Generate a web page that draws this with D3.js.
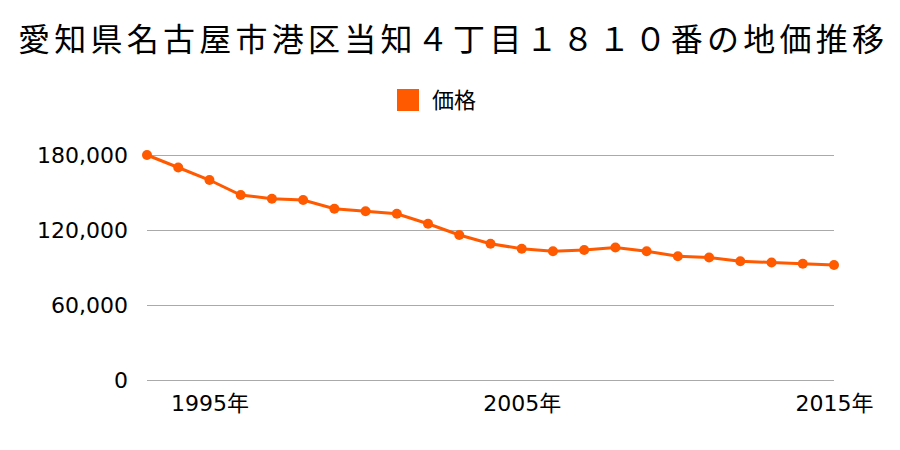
<!DOCTYPE html>
<html><head><meta charset="utf-8">
<script src="https://cdn.jsdelivr.net/npm/d3@7"></script>
<style>body{margin:0;background:#fff}svg{display:block}</style>
</head><body><svg id="c" width="900" height="450"></svg>
<script>
const title = "愛知県名古屋市港区当知４丁目１８１０番の地価推移";
const seriesName = "価格";
const years = [1993,1994,1995,1996,1997,1998,1999,2000,2001,2002,2003,2004,2005,2006,2007,2008,2009,2010,2011,2012,2013,2014,2015];
const prices = [180000,170000,160000,148000,145000,144000,137000,135000,133000,125000,116000,109000,105000,103000,104000,106000,103000,99000,98000,95000,94000,93000,92000];
const yTicks = [0,60000,120000,180000];
const xTickYears = [1995,2005,2015];

const color = "#ff5a00";
const cjk = "'Noto Sans CJK JP','Noto Sans',sans-serif";
const num = "'DejaVu Sans','Noto Sans CJK JP',sans-serif";
const svg = d3.select("#c");
const x = d3.scaleLinear().domain([1993,2015]).range([147,834]);
const y = d3.scaleLinear().domain([0,180000]).range([380,155]);

svg.append("text").attr("x",18).attr("y",51)
  .attr("textLength",866).attr("lengthAdjust","spacing")
  .attr("font-family",cjk).attr("font-size",32).attr("fill","#000").text(title);

svg.append("rect").attr("x",397).attr("y",89).attr("width",22).attr("height",22).attr("fill",color);
svg.append("text").attr("x",432).attr("y",108).attr("font-family",cjk).attr("font-size",22).attr("fill","#000").text(seriesName);

const yAxis = d3.axisLeft(y).tickValues(yTicks).tickSize(-(834-147)).tickFormat(d3.format(","));
const gy = svg.append("g").attr("transform","translate(147,0)").call(yAxis);
gy.select(".domain").remove();
gy.selectAll(".tick line").attr("stroke","#aaa").attr("stroke-width",1);
gy.selectAll(".tick text").attr("x",-19).attr("dy","0.36em").attr("font-family",num).attr("font-size",22).attr("fill","#000");

const xAxis = d3.axisBottom(x).tickValues(xTickYears).tickSize(0).tickFormat(d => d + "年");
const gx = svg.append("g").attr("transform","translate(0,380)").call(xAxis);
gx.select(".domain").remove();
gx.selectAll(".tick text").attr("y",31).attr("dy","0").attr("font-family",num).attr("font-size",22).attr("fill","#000");

const data = years.map((yr,i)=>({yr, v: prices[i]}));
svg.append("path").datum(data).attr("fill","none").attr("stroke",color).attr("stroke-width",3)
  .attr("d", d3.line().x(d=>x(d.yr)).y(d=>y(d.v)));
svg.selectAll("circle.p").data(data).enter().append("circle").attr("class","p")
  .attr("cx",d=>x(d.yr)).attr("cy",d=>y(d.v)).attr("r",5).attr("fill",color);
</script></body></html>
